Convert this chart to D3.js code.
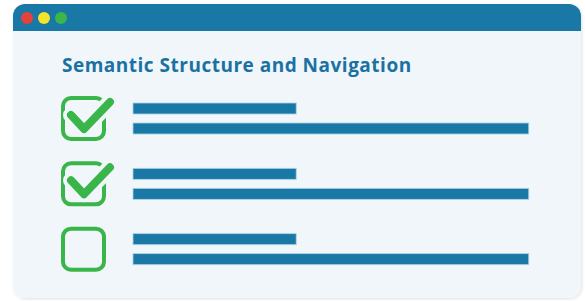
<!DOCTYPE html>
<html>
<head>
<meta charset="utf-8">
<script src="https://cdn.jsdelivr.net/npm/d3@7"></script>
<style>
  body { margin: 0; background: #fff; }
</style>
</head>
<body>
<div class="illustration"></div>
<script>
// data
const title = "Semantic Structure and Navigation";
const items = ["item1", "item2", "item3"];
const checked = [true, true, false];
const shortLen = [40, 40, 40];   // relative line lengths
const longLen = [97, 97, 97];
const dotColors = ["#e8403a", "#f2e52a", "#3cb54a"];

const W = 585, H = 301;
const svg = d3.select(".illustration")
    .append("svg")
    .attr("width", W)
    .attr("height", H);

const win = { x: 13, y: 4, w: 568, h: 294, r: 12, bar: 27 };

// soft shadow
const defs = svg.append("defs");
defs.append("filter").attr("id", "shadow")
    .attr("x", "-5%").attr("y", "-5%").attr("width", "110%").attr("height", "110%")
    .append("feDropShadow")
    .attr("dx", 1).attr("dy", 1).attr("stdDeviation", 1.5)
    .attr("flood-color", "#000").attr("flood-opacity", 0.12);

// window body + title bar
svg.append("rect")
    .attr("x", win.x).attr("y", win.y)
    .attr("width", win.w).attr("height", win.h)
    .attr("rx", win.r)
    .attr("fill", "#f1f6fa")
    .attr("filter", "url(#shadow)");

svg.append("path")
    .attr("d", `M${win.x},${win.y + win.bar} V${win.y + win.r} a${win.r},${win.r} 0 0 1 ${win.r},${-win.r}
        H${win.x + win.w - win.r} a${win.r},${win.r} 0 0 1 ${win.r},${win.r} V${win.y + win.bar} Z`)
    .attr("fill", "#1a78a6");

const dotX = d3.scalePoint().domain(dotColors).range([27, 61]);
svg.selectAll(".dot")
    .data(dotColors)
    .join("circle")
    .attr("class", "dot")
    .attr("cx", d => dotX(d))
    .attr("cy", 18)
    .attr("r", 6)
    .attr("fill", d => d);

svg.append("text")
    .attr("x", 62).attr("y", 72)
    .attr("font-family", "'Open Sans', Lato, sans-serif")
    .attr("font-weight", 700)
    .attr("font-size", 19)
    .attr("letter-spacing", 0.5)
    .attr("fill", "#1a72a3")
    .text(title);

// rows
const yRow = d3.scaleBand().domain(items).range([96, 292]).paddingInner(0);
const xLen = d3.scaleLinear().domain([0, 100]).range([133, 541]);

const rows = svg.selectAll(".row")
    .data(items.map((d, i) => ({ id: d, checked: checked[i], s: shortLen[i], l: longLen[i] })))
    .join("g")
    .attr("class", "row")
    .attr("transform", d => `translate(0,${yRow(d.id)})`);

rows.append("rect")
    .attr("x", 63).attr("y", 2)
    .attr("width", 41).attr("height", 41)
    .attr("rx", 8)
    .attr("fill", "none")
    .attr("stroke", "#3ab54a")
    .attr("stroke-width", 4);

const check = "M71,115 L84,129 L110,102";
rows.filter(d => d.checked).append("path")
    .attr("d", check)
    .attr("transform", "translate(0,-96)")
    .attr("fill", "none")
    .attr("stroke", "#f1f6fa")
    .attr("stroke-width", 16)
    .attr("stroke-linecap", "round")
    .attr("stroke-linejoin", "round");

rows.filter(d => d.checked).append("path")
    .attr("d", check)
    .attr("transform", "translate(0,-96)")
    .attr("fill", "none")
    .attr("stroke", "#3ab54a")
    .attr("stroke-width", 8)
    .attr("stroke-linecap", "round")
    .attr("stroke-linejoin", "round");

rows.append("rect")
    .attr("x", xLen(0)).attr("y", 7)
    .attr("width", d => xLen(d.s) - xLen(0))
    .attr("height", 11)
    .attr("fill", "#1a78a6")
    .attr("stroke", "#a9d3e6").attr("stroke-width", 0.8);

rows.append("rect")
    .attr("x", xLen(0)).attr("y", 27)
    .attr("width", d => xLen(d.l) - xLen(0))
    .attr("height", 11)
    .attr("fill", "#1a78a6")
    .attr("stroke", "#a9d3e6").attr("stroke-width", 0.8);
</script>
</body>
</html>
